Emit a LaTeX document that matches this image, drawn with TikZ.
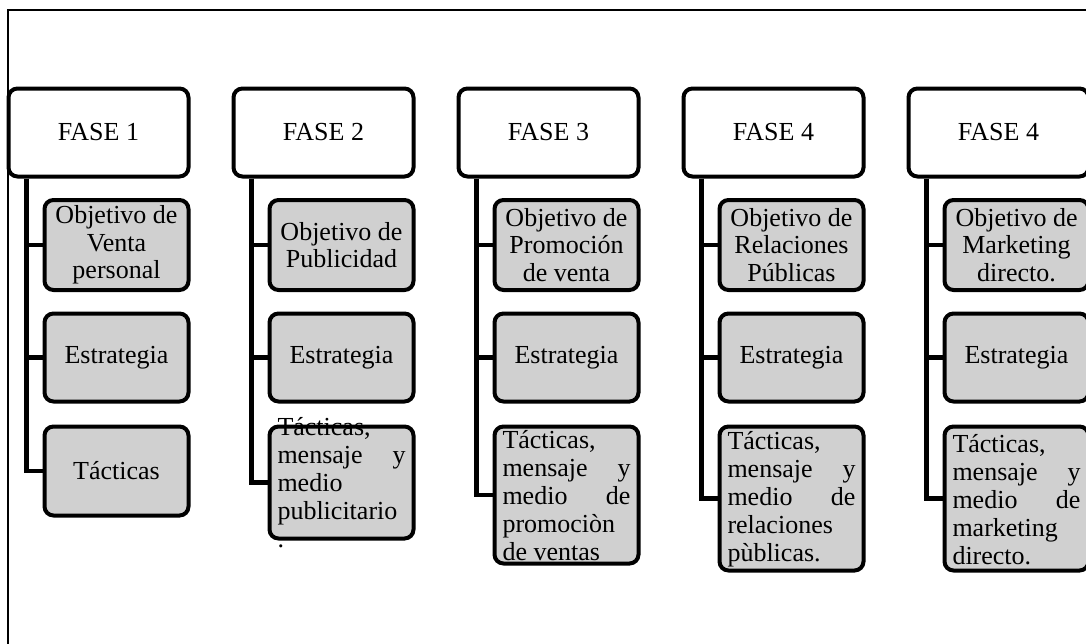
\documentclass[tikz,border=0pt]{standalone}
\usepackage{fontspec}
\setmainfont{Liberation Serif}
\usepackage{tikz}
\definecolor{boxgray}{RGB}{208,208,208}

\begin{document}
\begin{tikzpicture}[x=1pt,y=-1pt]

                \tikzset{fase/.style = {draw,line width=4pt,rounded corners=9pt,fill=white,minimum width=180pt,minimum height=88pt,inner sep=0pt,font=\fontsize{26}{27.5}\selectfont}}
                \tikzset{item/.style = {fase,fill=boxgray,minimum width=144pt,align=center}}
                \tikzset{link/.style = {line width=4.5pt}}

                \useasboundingbox (0,0) rectangle (1086,643);
                \clip (0,0) rectangle (1086,643);
                \draw[line width=1.5pt] (1200,10) -- (8,10) -- (8,700);

                \node[fase] (f1) at (98.5,132.5) {FASE 1};
                \node[fase] (f2) at (323.5,132.5) {FASE 2};
                \node[fase] (f3) at (548.5,132.5) {FASE 3};
                \node[fase] (f4) at (773.5,132.5) {FASE 4};
                \node[fase] (f5) at (998.5,132.5) {FASE 4};

                \node[item,minimum height=90pt] (o1) at (116.5,245) {Objetivo de\\Venta\\personal};
                \node[item,minimum height=90pt] (o2) at (341.5,245) {Objetivo de\\Publicidad};
                \node[item,minimum height=90pt] (o3) at (566.5,245) {Objetivo de\\Promoción\\de venta};
                \node[item,minimum height=90pt] (o4) at (791.5,245) {Objetivo de\\Relaciones\\Públicas};
                \node[item,minimum height=90pt] (o5) at (1016.5,245) {Objetivo de\\Marketing\\directo.};

                \node[item,minimum height=88pt] (e1) at (116.5,357.5) {Estrategia};
                \node[item,minimum height=88pt] (e2) at (341.5,357.5) {Estrategia};
                \node[item,minimum height=88pt] (e3) at (566.5,357.5) {Estrategia};
                \node[item,minimum height=88pt] (e4) at (791.5,357.5) {Estrategia};
                \node[item,minimum height=88pt] (e5) at (1016.5,357.5) {Estrategia};

                \node[item,minimum height=89pt] (t1) at (116.5,471) {Tácticas};
                \node[item,minimum height=112pt] (t2) at (341.5,482.5)
                    {\parbox[c][0pt][c]{128pt}{\vspace*{6pt}\baselineskip=28pt Tácticas,\\mensaje\hfill y\\medio\\publicitario\\.}};
                \node[item,minimum height=137pt] (t3) at (566.5,495)
                    {\parbox[c][0pt][c]{128pt}{\vspace*{8pt}\baselineskip=28pt Tácticas,\\mensaje\hfill y\\medio\hfill de\\promociòn\\de ventas}};
                \node[item,minimum height=144pt] (t4) at (791.5,498.5)
                    {\parbox[c][0pt][c]{128pt}{\vspace*{8pt}\baselineskip=28pt Tácticas,\\mensaje\hfill y\\medio\hfill de\\relaciones\\pùblicas.}};
                \node[item,minimum height=144pt] (t5) at (1016.5,498.5)
                    {\parbox[c][0pt][c]{128pt}{\vspace*{8pt}\baselineskip=28pt Tácticas,\\mensaje\hfill y\\medio\hfill de\\marketing\\directo.}};

                \draw[link] ([xshift=20pt]f1.south west) |- (o1.west);
                \draw[link] ([xshift=20pt]f1.south west) |- (e1.west);
                \draw[link] ([xshift=20pt]f1.south west) |- (t1.west);
                \draw[link] ([xshift=20pt]f2.south west) |- (o2.west);
                \draw[link] ([xshift=20pt]f2.south west) |- (e2.west);
                \draw[link] ([xshift=20pt]f2.south west) |- (t2.west);
                \draw[link] ([xshift=20pt]f3.south west) |- (o3.west);
                \draw[link] ([xshift=20pt]f3.south west) |- (e3.west);
                \draw[link] ([xshift=20pt]f3.south west) |- (t3.west);
                \draw[link] ([xshift=20pt]f4.south west) |- (o4.west);
                \draw[link] ([xshift=20pt]f4.south west) |- (e4.west);
                \draw[link] ([xshift=20pt]f4.south west) |- (t4.west);
                \draw[link] ([xshift=20pt]f5.south west) |- (o5.west);
                \draw[link] ([xshift=20pt]f5.south west) |- (e5.west);
                \draw[link] ([xshift=20pt]f5.south west) |- (t5.west);

\end{tikzpicture}
\end{document}
